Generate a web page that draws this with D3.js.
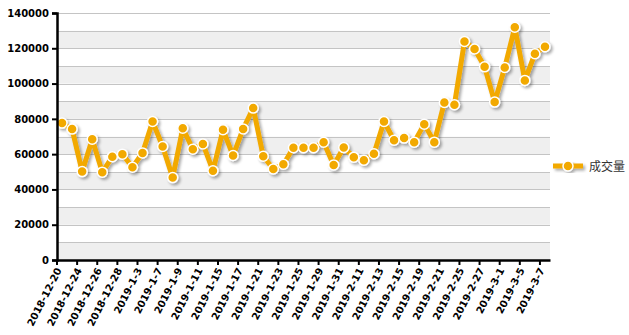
<!DOCTYPE html>
<html>
<head>
<meta charset="utf-8">
<script src="https://cdn.jsdelivr.net/npm/d3@7"></script>
<style>
  body { margin: 0; background: #fff; }
  .tick-label { font-family: "DejaVu Sans", Verdana, sans-serif; font-size: 10px; font-weight: bold; fill: #000; }
  .legend-label { font-size: 12px; fill: #333; font-family: "Noto Sans CJK SC", sans-serif; }
</style>
</head>
<body>
<svg id="chart" width="629" height="335"></svg>
<script>
const dates = [
  '2018-12-20', '2018-12-21', '2018-12-24', '2018-12-25', '2018-12-26', '2018-12-27', '2018-12-28',
  '2019-1-2', '2019-1-3', '2019-1-4', '2019-1-7', '2019-1-8', '2019-1-9', '2019-1-10', '2019-1-11',
  '2019-1-14', '2019-1-15', '2019-1-16', '2019-1-17', '2019-1-18', '2019-1-21', '2019-1-22',
  '2019-1-23', '2019-1-24', '2019-1-25', '2019-1-28', '2019-1-29', '2019-1-30', '2019-1-31',
  '2019-2-1', '2019-2-11', '2019-2-12', '2019-2-13', '2019-2-14', '2019-2-15', '2019-2-18',
  '2019-2-19', '2019-2-20', '2019-2-21', '2019-2-22', '2019-2-25', '2019-2-26', '2019-2-27',
  '2019-2-28', '2019-3-1', '2019-3-4', '2019-3-5', '2019-3-6', '2019-3-7'
];
const volume = [
  77600, 74200, 50100, 68500, 49800, 58500, 60000, 52600, 60700, 78500,
  64300, 46700, 74700, 62800, 65800, 50600, 73800, 59200, 74300, 86100,
  58800, 51600, 54300, 63600, 63600, 63600, 66800, 53900, 63700, 58300,
  56600, 60200, 78500, 67900, 69100, 66800, 77000, 66800, 89300, 88000,
  123900, 119600, 109500, 89500, 109100, 131900, 101800, 116900, 120900
];
const yTicks = [0, 20000, 40000, 60000, 80000, 100000, 120000, 140000];
const seriesName = '成交量';

const lineColor = '#f2a900';
const svg = d3.select('#chart');
const margin = { top: 13, right: 79, bottom: 75, left: 57 };
const width = 629, height = 335;

const x = d3.scaleBand().domain(dates).range([margin.left, width - margin.right]);
const y = d3.scaleLinear().domain([0, 140000]).range([height - margin.bottom, margin.top]);

// drop shadow
const defs = svg.append('defs');
const f = defs.append('filter').attr('id', 'shadow')
  .attr('x', '-10%').attr('y', '-10%').attr('width', '130%').attr('height', '130%');
f.append('feGaussianBlur').attr('in', 'SourceAlpha').attr('stdDeviation', 1.5).attr('result', 'blur');
f.append('feOffset').attr('in', 'blur').attr('dx', 2).attr('dy', 2).attr('result', 'off');
f.append('feComponentTransfer').attr('in', 'off').attr('result', 'sh')
  .append('feFuncA').attr('type', 'linear').attr('slope', 0.35);
const m = f.append('feMerge');
m.append('feMergeNode').attr('in', 'sh');
m.append('feMergeNode').attr('in', 'SourceGraphic');

// alternating bands
const bands = d3.range(0, 140000, 10000);
svg.append('g').selectAll('rect').data(bands).join('rect')
  .attr('x', margin.left)
  .attr('width', width - margin.right - margin.left)
  .attr('y', d => y(d + 10000))
  .attr('height', d => y(d) - y(d + 10000))
  .attr('fill', d => (d / 10000) % 2 === 0 ? '#efefef' : '#ffffff');

// grid lines
svg.append('g').selectAll('line').data(d3.range(10000, 140001, 10000)).join('line')
  .attr('x1', margin.left).attr('x2', width - margin.right)
  .attr('y1', d => Math.round(y(d)) + 0.5).attr('y2', d => Math.round(y(d)) + 0.5)
  .attr('stroke', '#c4c4c4').attr('stroke-width', 1);

// series
const line = d3.line()
  .x((d, i) => x(dates[i]) + x.bandwidth() / 2)
  .y(d => y(d));

const series = svg.append('g').attr('filter', 'url(#shadow)');
series.append('path')
  .datum(volume)
  .attr('d', line)
  .attr('fill', 'none')
  .attr('stroke', lineColor)
  .attr('stroke-width', 5)
  .attr('stroke-linejoin', 'round');

series.selectAll('circle').data(volume).join('circle')
  .attr('cx', (d, i) => x(dates[i]) + x.bandwidth() / 2)
  .attr('cy', d => y(d))
  .attr('r', 5)
  .attr('fill', lineColor)
  .attr('stroke', '#fff')
  .attr('stroke-width', 1.5);

// y axis
const yAxis = svg.append('g')
  .attr('transform', `translate(${margin.left},0)`)
  .call(d3.axisLeft(y).tickValues(yTicks).tickFormat(d3.format('d')).tickSize(5).tickPadding(3));
yAxis.attr('font-family', null).attr('font-size', null);
yAxis.select('.domain').attr('stroke', '#000').attr('stroke-width', 2.5);
yAxis.selectAll('.tick line').attr('stroke', '#000').attr('stroke-width', 2);
yAxis.selectAll('.tick text').attr('class', 'tick-label');

// x axis
const labelDates = dates.filter((d, i) => i % 2 === 0);
const xAxis = svg.append('g')
  .attr('transform', `translate(0,${height - margin.bottom})`)
  .call(d3.axisBottom(x).tickValues(labelDates).tickSize(5).tickSizeOuter(0));
xAxis.attr('font-family', null).attr('font-size', null);
xAxis.select('.domain').attr('stroke', '#000').attr('stroke-width', 2.5);
xAxis.selectAll('.tick').attr('transform', d => `translate(${x(d)},0)`);
xAxis.selectAll('.tick line').attr('stroke', '#000').attr('stroke-width', 2);
xAxis.selectAll('.tick text')
  .attr('class', 'tick-label')
  .attr('text-anchor', 'end')
  .attr('dy', null)
  .attr('y', 0)
  .attr('transform', 'translate(5,10) rotate(-63)');

// legend
const lg = svg.append('g').attr('transform', `translate(553,${166})`).attr('filter', 'url(#shadow)');
lg.append('line').attr('x1', 0).attr('x2', 30).attr('y1', 0).attr('y2', 0)
  .attr('stroke', lineColor).attr('stroke-width', 5);
lg.append('circle').attr('cx', 15).attr('cy', 0).attr('r', 5)
  .attr('fill', lineColor).attr('stroke', '#fff').attr('stroke-width', 1.5);
svg.append('text').attr('class', 'legend-label')
  .attr('x', 589).attr('y', 170.5).text(seriesName);
</script>
</body>
</html>
